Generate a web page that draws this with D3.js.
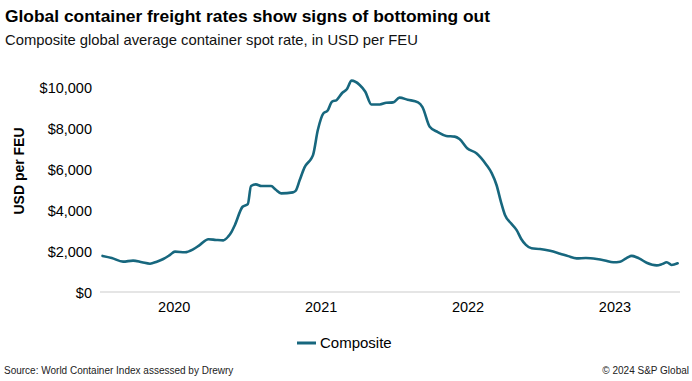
<!DOCTYPE html>
<html>
<head>
<meta charset="utf-8">
<script src="https://cdn.jsdelivr.net/npm/d3@7"></script>
<style>
  body { margin: 0; background: #fff; }
  text { font-family: "Liberation Sans", Arial, Helvetica, sans-serif; fill: #000; }
</style>
</head>
<body>
<div id="chart"></div>
<script>
// composite WCI readings (USD per FEU)
const dates = [
  "2020-01-06", "2020-01-29", "2020-02-26", "2020-03-22", "2020-04-13", "2020-05-03",
  "2020-05-20", "2020-06-05", "2020-06-21", "2020-07-04", "2020-07-29", "2020-08-18",
  "2020-09-04", "2020-09-25", "2020-10-14", "2020-11-01", "2020-11-13", "2020-11-22",
  "2020-11-30", "2020-12-19", "2021-01-01", "2021-01-09", "2021-01-21", "2021-02-04",
  "2021-02-28", "2021-03-11", "2021-03-25", "2021-04-23", "2021-04-30", "2021-05-10",
  "2021-05-22", "2021-06-08", "2021-06-12", "2021-06-24", "2021-07-08", "2021-07-18",
  "2021-07-29", "2021-08-10", "2021-08-24", "2021-09-04", "2021-09-16", "2021-10-06",
  "2021-10-20", "2021-11-04", "2021-11-25", "2021-12-11", "2021-12-28", "2022-01-13",
  "2022-02-02", "2022-02-28", "2022-03-11", "2022-03-29", "2022-04-18", "2022-05-09",
  "2022-05-30", "2022-06-11", "2022-06-30", "2022-07-23", "2022-08-17", "2022-08-30",
  "2022-09-11", "2022-09-22", "2022-10-02", "2022-10-17", "2022-10-31", "2022-11-11",
  "2022-11-23", "2022-12-07", "2022-12-28", "2023-01-22", "2023-02-16", "2023-03-08",
  "2023-03-29", "2023-04-21", "2023-05-18", "2023-06-07", "2023-06-28", "2023-07-15",
  "2023-07-30", "2023-08-13", "2023-08-31", "2023-09-19", "2023-10-14", "2023-10-27",
  "2023-11-08", "2023-11-20", "2023-12-05"
];
const composite = [
  1760, 1660, 1480, 1530, 1450, 1380,
  1480, 1610, 1800, 1970, 1940, 2080,
  2300, 2570, 2540, 2520, 2700, 2950,
  3270, 4160, 4290, 5170, 5250, 5170,
  5170, 5000, 4810, 4860, 4940, 5460,
  6080, 6520, 6680, 7900, 8720, 8840,
  9280, 9370, 9720, 9890, 10310, 10100,
  9770, 9150, 9150, 9230, 9250, 9480,
  9380, 9250, 9020, 8060, 7800, 7610,
  7580, 7460, 7010, 6770, 6200, 5800,
  5220, 4400, 3760, 3350, 3020, 2600,
  2300, 2130, 2100, 2010, 1870, 1750,
  1640, 1660, 1610, 1540, 1450, 1480,
  1640, 1760, 1640, 1430, 1300, 1360,
  1450, 1320, 1400
];
const yTicks = [0, 2000, 4000, 6000, 8000, 10000];
const xTickYears = [2020, 2021, 2022, 2023];

const svgWidth = 692;
const svgHeight = 381;
const parseDate = d3.timeParse("%Y-%m-%d");

const data = dates.map((d, i) => ({ date: parseDate(d), value: composite[i] }));

const svg = d3.select("#chart")
  .append("svg")
  .attr("width", svgWidth)
  .attr("height", svgHeight);

// titles
svg.append("text")
  .attr("x", 5)
  .attr("y", 22)
  .style("font-size", "17.4px")
  .style("font-weight", "bold")
  .text("Global container freight rates show signs of bottoming out");

svg.append("text")
  .attr("x", 5)
  .attr("y", 45)
  .style("font-size", "14.8px")
  .style("fill", "#111")
  .text("Composite global average container spot rate, in USD per FEU");

const xScale = d3.scaleTime()
  .domain([new Date(2020, 0, 1), new Date(2024, 0, 1)])
  .range([100.5, 688.5]);

const yScale = d3.scaleLinear()
  .domain([0, 10000])
  .range([292, 87]);

// zero line
svg.append("line")
  .attr("x1", 100)
  .attr("x2", 680)
  .attr("y1", yScale(0))
  .attr("y2", yScale(0))
  .attr("stroke", "#dcdcdc")
  .attr("stroke-width", 1.5);

const leftAxis = d3.axisLeft(yScale)
  .tickValues(yTicks)
  .tickSize(0)
  .tickPadding(0)
  .tickFormat(d3.format("$,"));

const yAxis = svg.append("g")
  .attr("transform", "translate(92,0)")
  .call(leftAxis);
yAxis.select(".domain").remove();
yAxis.selectAll("text")
  .attr("x", 0)
  .attr("dy", "0.35em")
  .style("font-size", "14.5px")
  .style("font-family", null)
  .attr("fill", "#000");

const bottomAxis = d3.axisBottom(xScale)
  .tickValues(xTickYears.map(y => new Date(y, 6, 1)))
  .tickSize(0)
  .tickFormat(d3.timeFormat("%Y"));

const xAxis = svg.append("g")
  .attr("transform", "translate(0,302)")
  .call(bottomAxis);
xAxis.select(".domain").remove();
xAxis.selectAll("text")
  .attr("y", 0)
  .attr("dy", "0.71em")
  .style("font-size", "14.5px")
  .style("font-family", null)
  .attr("fill", "#000");

svg.append("text")
  .attr("transform", "translate(24,171) rotate(-90)")
  .attr("text-anchor", "middle")
  .style("font-size", "14px")
  .style("font-weight", "bold")
  .text("USD per FEU");

const lineColor = "#17677e";

const line = d3.line()
  .x(d => xScale(d.date))
  .y(d => yScale(d.value))
  .curve(d3.curveMonotoneX);

svg.append("path")
  .datum(data)
  .attr("d", line)
  .attr("fill", "none")
  .attr("stroke", lineColor)
  .attr("stroke-width", 2.6)
  .attr("stroke-linejoin", "round")
  .attr("stroke-linecap", "round");

// legend
svg.append("line")
  .attr("x1", 297)
  .attr("x2", 316)
  .attr("y1", 343)
  .attr("y2", 343)
  .attr("stroke", lineColor)
  .attr("stroke-width", 3);

svg.append("text")
  .attr("x", 320)
  .attr("y", 348)
  .style("font-size", "15px")
  .text("Composite");

// footer
svg.append("text")
  .attr("x", 4)
  .attr("y", 374)
  .style("font-size", "10px")
  .style("fill", "#222")
  .text("Source: World Container Index assessed by Drewry");

svg.append("text")
  .attr("x", 689)
  .attr("y", 374)
  .attr("text-anchor", "end")
  .style("font-size", "10px")
  .style("fill", "#222")
  .text("\u00a9 2024 S&P Global");
</script>
</body>
</html>
